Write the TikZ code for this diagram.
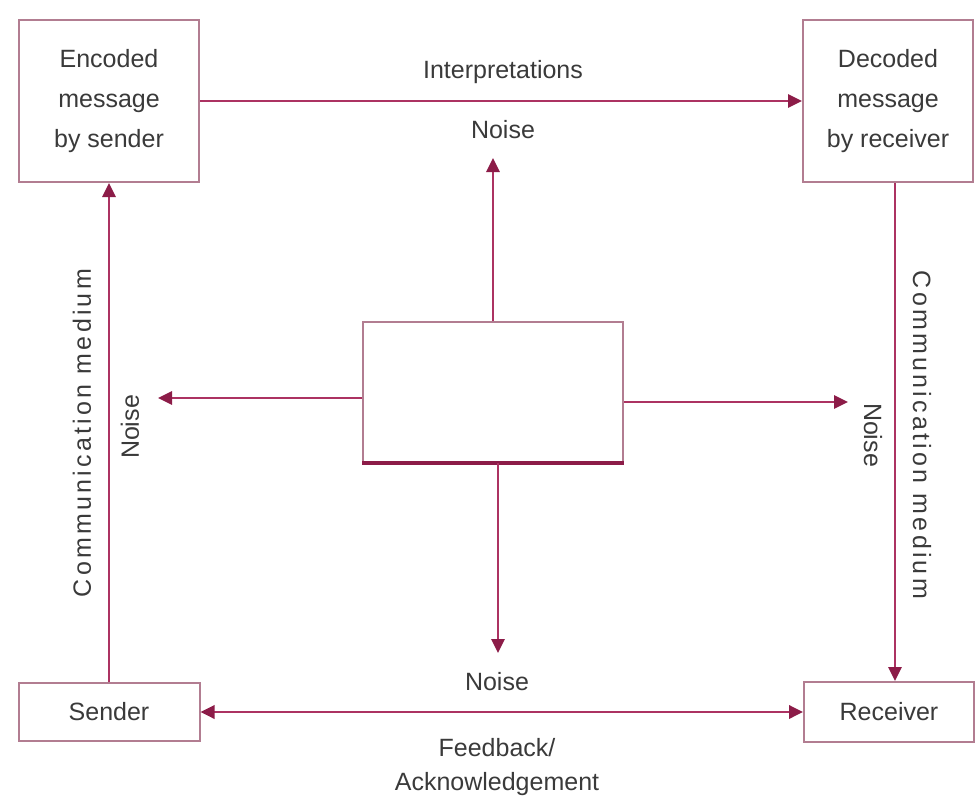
\documentclass[tikz,border=0pt]{standalone}
\usepackage{fontspec}
\setmainfont{Liberation Sans}
\usetikzlibrary{arrows.meta}
\definecolor{linkred}{RGB}{172,50,98}
\definecolor{tipred}{RGB}{140,28,72}
\definecolor{boxline}{RGB}{178,125,145}
\definecolor{txtgray}{RGB}{58,58,58}
\begin{document}
\begin{tikzpicture}[x=0.75pt,y=-0.75pt,
  every node/.style={text=txtgray,font=\fontsize{18.75pt}{30pt}\selectfont},
  stagebox/.style={draw=boxline,line width=1.5pt,fill=white,align=center,inner sep=0pt},
  flow/.style={draw=linkred,line width=1.5pt,-{Triangle[length=10.5pt,width=10pt,fill=tipred,color=tipred]}},
  flowboth/.style={draw=linkred,line width=1.8pt,{Triangle[length=10.5pt,width=10pt,fill=tipred,color=tipred]}-{Triangle[length=10.5pt,width=10pt,fill=tipred,color=tipred]}},
  spaced/.style={font=\fontsize{18.75pt}{30pt}\selectfont\addfontfeature{LetterSpace=13}}
]
\useasboundingbox (0,0) rectangle (979,803);

% stages of the message
\node[stagebox,minimum width=180*0.75pt,minimum height=162*0.75pt] (enc) at (109,101) {Encoded\\message\\by sender};
\node[stagebox,minimum width=170*0.75pt,minimum height=162*0.75pt] (dec) at (888,101) {Decoded\\message\\by receiver};
\node[stagebox,minimum width=181*0.75pt,minimum height=58*0.75pt] (snd) at (109,712) {Sender};
\node[stagebox,minimum width=170*0.75pt,minimum height=60*0.75pt] (rcv) at (889,712) {Receiver};

% noise source in the middle
\node[stagebox,minimum width=260*0.75pt,minimum height=140*0.75pt] (mid) at (493,392) {};
\draw[draw=tipred,line width=2.4pt] (mid.south west) -- (mid.south east);

% ends of the noise arrows
\coordinate (nup) at (493,158);
\coordinate (nleft) at (158,398);
\coordinate (nright) at (848,402);
\coordinate (ndown) at (498,653);

% main channel
\draw[flow] (enc.east) -- (dec.west);
\draw[flow] (snd.north) -- (enc.south);
\draw[flow] ([xshift=5.25pt]dec.south) -- ([xshift=4.5pt]rcv.north);
\draw[flowboth] (snd.east) -- (rcv.west);

% noise arrows
\draw[flow] (mid.north) -- (nup);
\draw[flow] ([yshift=-4.5pt]mid.west) -- (nleft);
\draw[flow] ([yshift=-7.5pt]mid.east) -- (nright);
\draw[flow] ([xshift=3.75pt]mid.south) -- (ndown);

% labels
\node (interp) at (503,72) {Interpretations};
\node (noiset) at (503,130) {Noise};
\node (noiseb) at (497,682) {Noise};
\node[align=center,font=\fontsize{18.75pt}{26pt}\selectfont] (fb) at (497,767) {Feedback/\\Acknowledgement};
\node[spaced,rotate=90] (cml) at (82,433) {Communication medium};
\node[rotate=90] (noisel) at (130,427) {Noise};
\node[spaced,rotate=-90] (cmr) at (922,435) {Communication medium};
\node[rotate=-90] (noiser) at (873,435) {Noise};
\end{tikzpicture}
\end{document}
